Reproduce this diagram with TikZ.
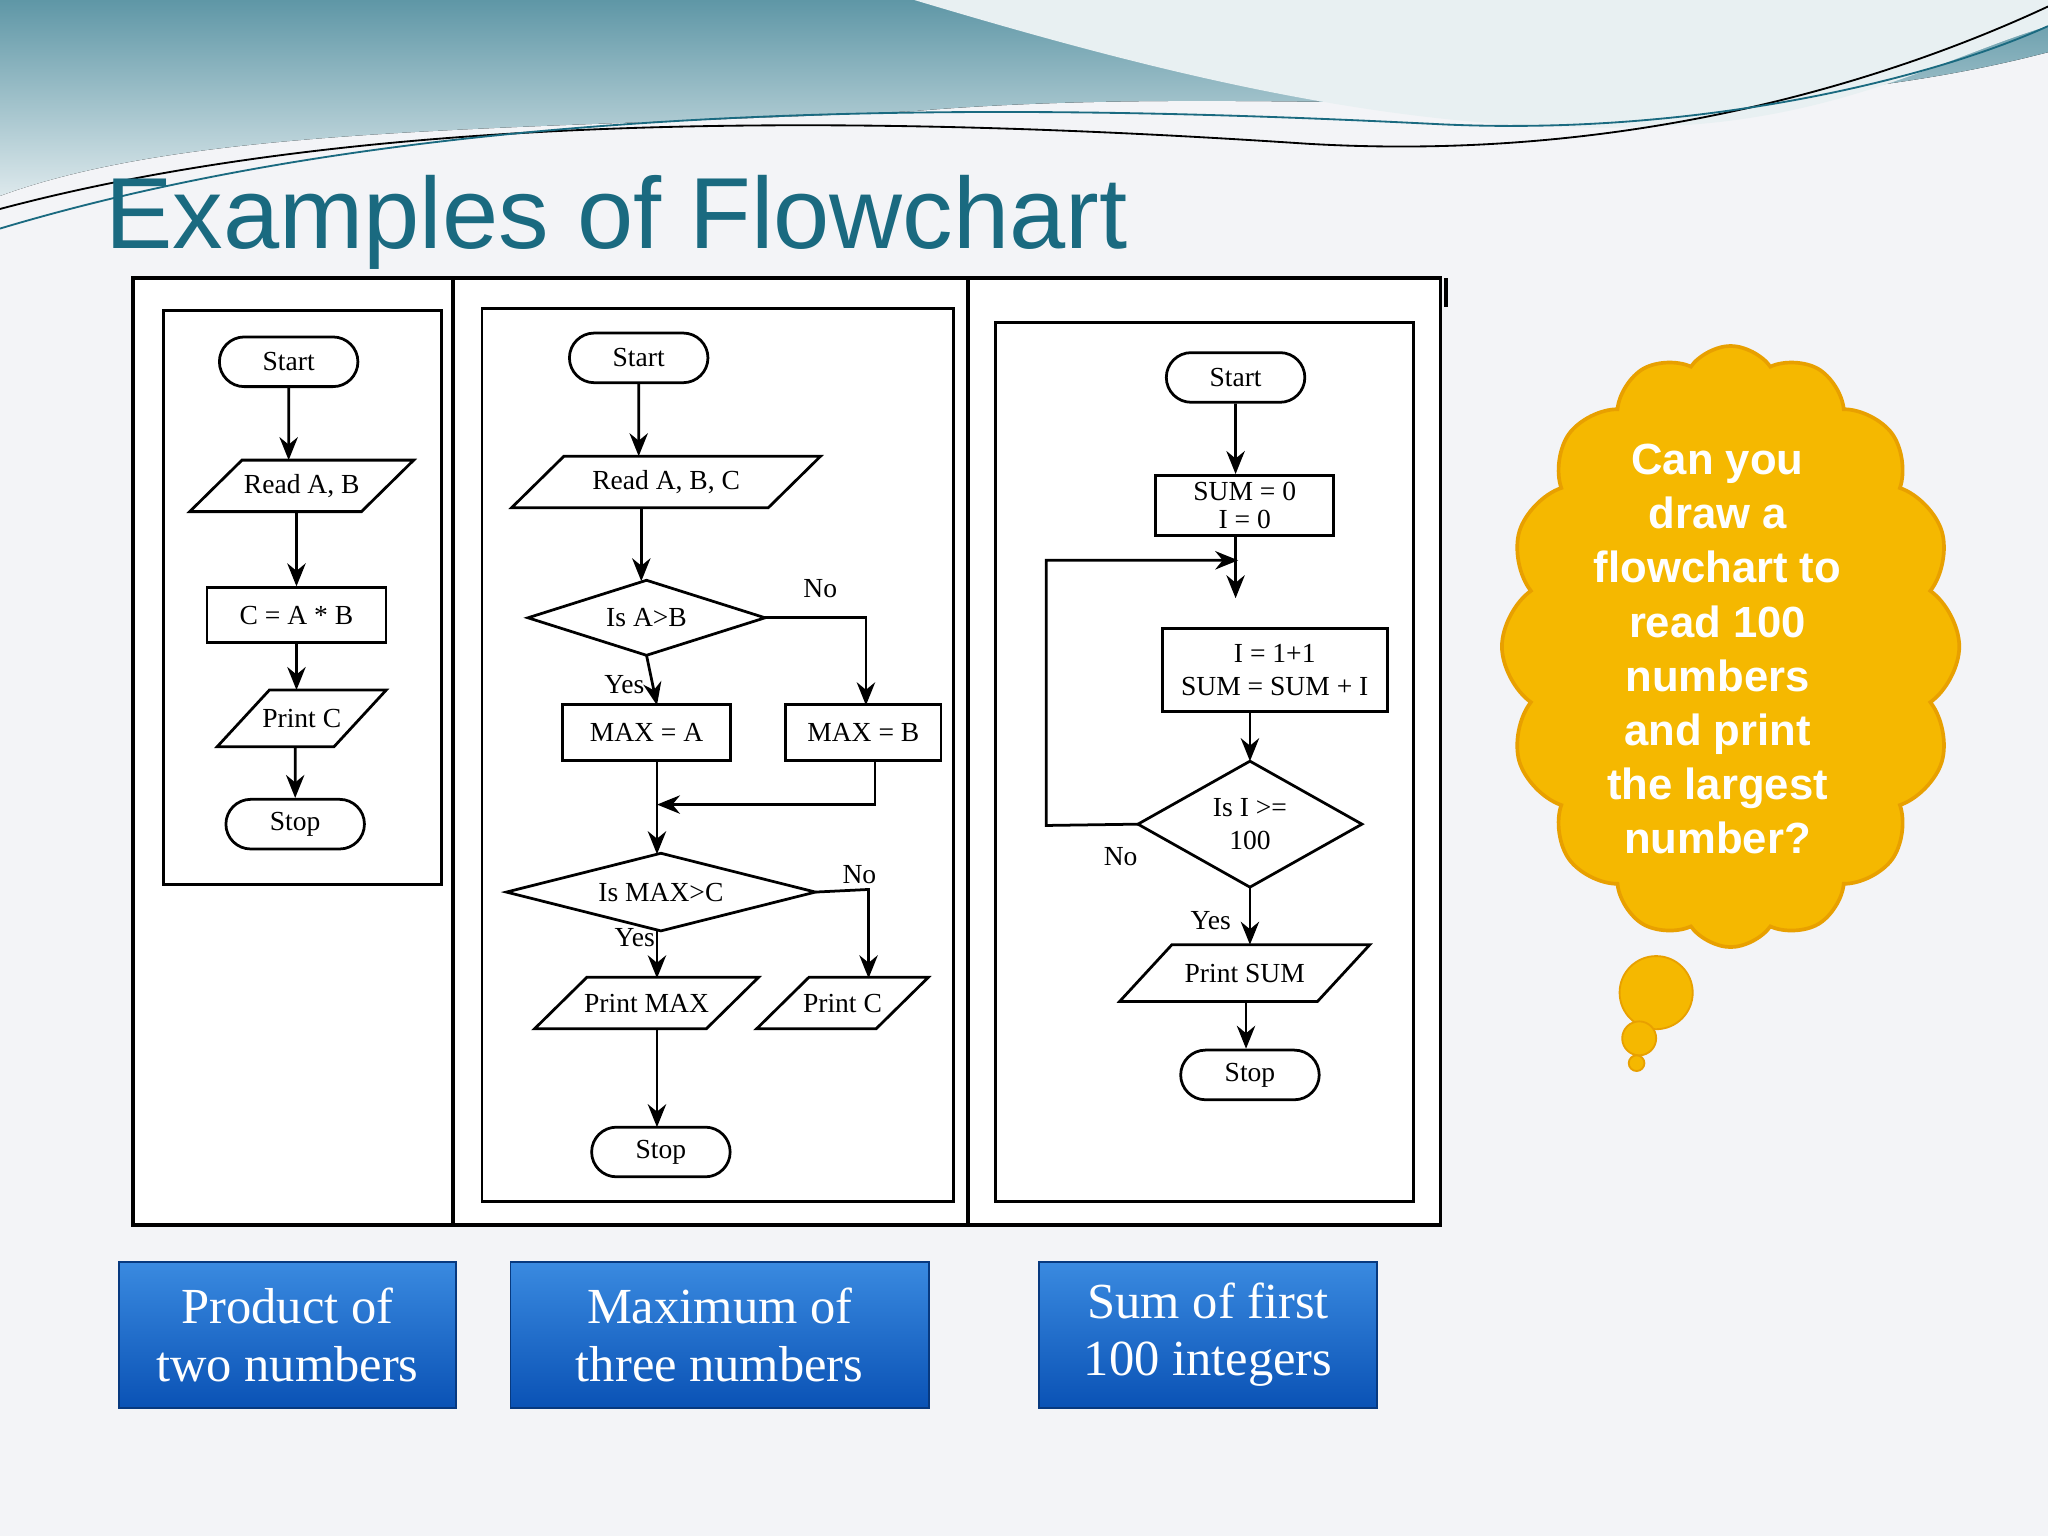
\documentclass[tikz,border=0pt]{standalone}
\usepackage{fontspec}
\setmainfont{Liberation Serif}
\newfontfamily\sans{Liberation Sans}
\usetikzlibrary{shapes.geometric,shapes.misc,shapes.symbols,arrows.meta}
\definecolor{ttl}{HTML}{1A6A80}
\definecolor{bg}{HTML}{F3F4F7}
\definecolor{bluea}{HTML}{3A8AE0}
\definecolor{blueb}{HTML}{0A52B5}
\definecolor{cloudy}{HTML}{F5B800}
\definecolor{cloudo}{HTML}{E8A000}
\newcommand{\myPara}[1]{\draw[semithick] ([xshift=-0.2cm]#1.south west) -- ([xshift=0.2cm]#1.north west) -- ([xshift=0.2cm]#1.north east) -- ([xshift=-0.2cm]#1.south east) -- cycle;}
\newcommand{\myDia}[1]{\draw[semithick] (#1.north) -- (#1.east) -- (#1.south) -- (#1.west) -- cycle;}
\begin{document}
\begin{tikzpicture}[x=0.01cm,y=-0.01cm,
  fc/.style={draw,semithick,font=\fontsize{6}{7}\selectfont,inner sep=0pt,align=center},
  term/.style={fc,rounded rectangle,minimum width=1.06cm,minimum height=0.38cm},
  proc/.style={fc,rectangle},
  io/.style={rectangle,inner sep=0pt,align=center,font=\fontsize{6}{7}\selectfont},
  dec/.style={rectangle,inner sep=0pt,align=center,font=\fontsize{6}{7}\selectfont},
  ar/.style={semithick,-{Stealth[length=5pt,width=4pt]}},
  lbl/.style={font=\fontsize{6}{7}\selectfont},
  bbox/.style={draw=blueb!70!black,top color=bluea,bottom color=blueb,text=white,align=center,font=\fontsize{11}{12.5}\selectfont,minimum width=2.58cm,minimum height=1.12cm}]
\useasboundingbox (0,0) rectangle (1568,1176);
\fill[bg] (0,0) rectangle (1568,1176);
% top wave
\fill[top color=ttl!70,bottom color=ttl!15] (0,0) -- (1568,0) -- (1568,40) .. controls (1300,110) and (1000,60) .. (700,85) .. controls (400,100) and (150,95) .. (0,150) -- cycle;
\fill[white!90!ttl] (700,0) .. controls (900,60) and (1100,110) .. (1300,95) .. controls (1420,85) and (1500,40) .. (1568,20) -- (1568,0) -- cycle;
\draw[black,thin] (0,160) .. controls (300,80) and (700,90) .. (1000,110) .. controls (1250,125) and (1450,60) .. (1568,5);
\draw[ttl,thin] (0,175) .. controls (350,70) and (800,80) .. (1100,95) .. controls (1300,105) and (1480,60) .. (1568,20);
\node[anchor=base west,font=\sans\fontsize{22}{26}\selectfont,text=ttl,inner sep=0] (title) at (80,190) {Examples of Flowchart};
% panels
\draw[thick,fill=white] (102,213) rectangle (1103,938);
\draw[thick] (347,213) -- (347,938) (741,213) -- (741,938);
\draw[thick] (1107,213) -- (1107,235);
\draw[semithick] (125,238) rectangle (338,677);
\draw[semithick] (369,236) rectangle (730,920);
\draw[semithick] (762,247) rectangle (1082,920);
% panel 1
\node[term] (s1) at (221,277) {Start};
\node[io,minimum width=1.3cm,minimum height=0.38cm] (r1) at (231,372) {Read A, B};
\node[proc,minimum width=1.37cm,minimum height=0.42cm] (c1) at (227,471) {C = A * B};
\node[io,minimum width=0.88cm,minimum height=0.42cm] (p1) at (231,550) {Print C};
\node[term] (e1) at (226,631) {Stop};
\myPara{r1}\myPara{p1}
\draw[ar] (s1) -- (s1|-r1.north);
\draw[ar] (r1.south-|c1) -- (c1);
\draw[ar] (c1) -- (c1|-p1.north);
\draw[ar] (p1.south-|e1) -- (e1);
% panel 2
\node[term] (s2) at (489,274) {Start};
\node[io,minimum width=1.95cm,minimum height=0.38cm] (r2) at (510,369) {Read A, B, C};
\node[dec,minimum width=1.8cm,minimum height=0.56cm] (d1) at (495,473) {Is A>B};
\node[proc,minimum width=1.29cm,minimum height=0.43cm] (ma) at (495,561) {MAX = A};
\node[proc,minimum width=1.19cm,minimum height=0.43cm] (mb) at (661,561) {MAX = B};
\node[dec,minimum width=2.35cm,minimum height=0.58cm] (d2) at (506,683) {Is MAX>C};
\node[io,minimum width=1.3cm,minimum height=0.38cm] (pm) at (495,768) {Print MAX};
\node[io,minimum width=0.9cm,minimum height=0.38cm] (pc) at (645,768) {Print C};
\node[term] (e2) at (506,882) {Stop};
\myPara{r2}\myDia{d1}\myDia{d2}\myPara{pm}\myPara{pc}
\coordinate (j2) at (503,616);
\draw[ar] (s2) -- (s2|-r2.north);
\draw[ar] (491,388) -- (491,445);
\draw[ar] (d1.east) -| (663,540);
\node[lbl] (no1) at (628,451) {No};
\draw[ar] (d1.south) -- (503,540);
\node[lbl] (y1) at (478,524) {Yes};
\draw[ar] (503,583) -- (503,654);
\draw[ar] (670,583) -- (670,616) -- (j2);
\draw[ar] (d2.east) -- (665,681) -- (665,749);
\node[lbl] (no2) at (658,670) {No};
\draw[ar] (503,712) -- (503,749);
\node[lbl] (y2) at (486,718) {Yes};
\draw[ar] (503,787) -- (503,863);
% panel 3
\node[term] (s3) at (946,289) {Start};
\node[proc,minimum width=1.36cm,minimum height=0.46cm] (z3) at (953,387) {SUM = 0\\[-1pt]I = 0};
\node[proc,minimum width=1.72cm,minimum height=0.64cm] (i3) at (976,513) {I = 1+1\\SUM = SUM + I};
\node[dec,minimum width=1.7cm,minimum height=0.95cm] (d3) at (957,631) {Is I >=\\100};
\node[io,minimum width=1.5cm,minimum height=0.42cm] (p3) at (953,745) {Print SUM};
\node[term] (e3) at (957,823) {Stop};
\myDia{d3}\myPara{p3}
\coordinate (l3) at (948,429);
\draw[ar] (s3) -- (s3|-z3.north);
\draw[ar] (946,410) -- (946,458);
\draw[ar] (i3.south-|957,0) -- (d3.north);
\draw[ar] (d3.west) -- (801,632) -- (801,429) -- (l3);
\node[lbl] (no3) at (858,656) {No};
\draw[ar] (d3.south) -- (d3.south|-p3.north);
\node[lbl] (y3) at (927,705) {Yes};
\draw[ar] (p3.south-|954,0) -- (e3.north-|954,0);
% blue captions
\node[bbox] (b1) at (220,1022) {Product of\\two numbers};
\node[bbox,minimum width=3.2cm] (b2) at (551,1022) {Maximum of\\three numbers};
\node[bbox,minimum width=2.59cm] (b3) at (925,1022) {Sum of first\\100 integers};
% cloud
\node[cloud,cloud puffs=16,cloud puff arc=110,aspect=0.75,fill=cloudy,draw=cloudo,thick,minimum width=3.5cm,minimum height=4.6cm] (cl) at (1325,495) {};
\node[text=white,align=center,font=\sans\bfseries\fontsize{9.5}{11.8}\selectfont] (clt) at (1315,497) {Can you\\draw a\\flowchart to\\read 100\\numbers\\and print\\the largest\\number?};
\fill[cloudy,draw=cloudo] (1268,760) circle (28);
\fill[cloudy,draw=cloudo] (1255,795) circle (13);
\fill[cloudy,draw=cloudo] (1253,814) circle (6);
\end{tikzpicture}
\end{document}
